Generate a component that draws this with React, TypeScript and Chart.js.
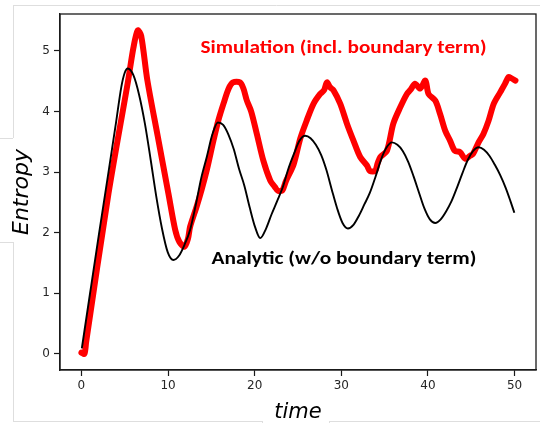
import React, { useEffect, useRef } from 'react';
import { Chart, registerables } from 'chart.js';

Chart.register(...registerables);

// ---- data ----
const analyticTime = [
  0.05, 1, 2, 3, 4, 4.6, 5.0, 5.35,
  6.0, 6.67, 7.33, 8.0, 8.64, 9.3, 9.96, 10.62,
  11.26, 11.9, 12.55, 13.19, 13.83, 14.47, 15.11, 15.75,
  16.36, 16.97, 17.58, 18.2, 18.8, 19.42, 20.03, 20.64,
  21.29, 21.94, 22.59, 23.24, 23.88, 24.53, 25.18, 25.83,
  26.45, 27.06, 27.68, 28.29, 28.9, 29.52, 30.14, 30.76,
  31.4, 32.03, 32.67, 33.3, 33.94, 34.57, 35.2, 35.84,
  36.47, 37.09, 37.72, 38.34, 38.97, 39.59, 40.22, 40.84,
  41.47, 42.09, 42.72, 43.34, 43.97, 44.59, 45.22, 45.84,
  46.47, 47.09, 47.72, 48.34, 48.97, 49.5, 49.97,
];
const analyticEntropy = [
  0.09, 1.0, 1.95, 2.88, 3.82, 4.4, 4.64, 4.71,
  4.6, 4.27, 3.8, 3.2, 2.6, 2.07, 1.68, 1.55,
  1.62, 1.8, 2.05, 2.45, 2.9, 3.25, 3.62, 3.82,
  3.78, 3.62, 3.38, 3.05, 2.78, 2.42, 2.1, 1.91,
  2.06, 2.3, 2.52, 2.75, 3.05, 3.3, 3.52, 3.6,
  3.56, 3.45, 3.28, 3.03, 2.71, 2.4, 2.16, 2.07,
  2.13, 2.28, 2.47, 2.66, 2.92, 3.2, 3.4, 3.49,
  3.45, 3.35, 3.17, 2.93, 2.66, 2.4, 2.22, 2.16,
  2.22, 2.35, 2.52, 2.74, 2.98, 3.2, 3.35, 3.41,
  3.37, 3.27, 3.12, 2.95, 2.74, 2.53, 2.33,
];

const simTime = [
  0, 0.35, 0.55, 3.12, 5.39, 6.0, 6.5, 6.9, 7.62, 8.8, 10.05, 10.82, 11.3, 11.9, 12.3, 12.55, 13.3, 13.9, 14.5,
  15.24, 15.8, 16.4, 17.0, 17.5, 18.3, 18.7, 19.1, 19.6, 20.25, 21.0, 21.8, 22.3, 22.7, 23.2, 23.6, 24.5, 25.25,
  26.0, 26.8, 27.56, 28.0, 28.34, 28.7, 29.1, 29.87, 30.65, 31.4, 32.18, 32.96, 33.3, 33.9, 34.2, 34.5, 35.26,
  36.0, 36.8, 37.57, 38.0, 38.5, 39.1, 39.7, 40.07, 40.84, 41.4, 42.0, 42.55, 43.1, 43.7, 44.3, 44.87, 45.2,
  45.84, 46.4, 47.0, 47.6, 48.35, 48.9, 49.3, 49.6, 50.1,
];
const simEntropy = [
  0.02, 0.0, 0.2, 2.64, 4.51, 5.05, 5.34, 5.25, 4.51, 3.6, 2.64, 2.05, 1.85, 1.77, 1.9, 2.1, 2.43, 2.72, 3.05,
  3.52, 3.85, 4.13, 4.38, 4.48, 4.48, 4.38, 4.18, 4.0, 3.63, 3.19, 2.86, 2.76, 2.69, 2.7, 2.85, 3.13, 3.55,
  3.85, 4.13, 4.29, 4.35, 4.48, 4.4, 4.35, 4.13, 3.8, 3.52, 3.25, 3.11, 3.02, 3.02, 3.15, 3.25, 3.35,
  3.8, 4.07, 4.29, 4.36, 4.46, 4.38, 4.51, 4.29, 4.18, 3.96, 3.68, 3.52, 3.35, 3.33, 3.22, 3.27, 3.3,
  3.49, 3.63, 3.85, 4.13, 4.32, 4.46, 4.57, 4.55, 4.51,
];

const xTickValues = [0, 10, 20, 30, 40, 50];
const yTickValues = [0, 1, 2, 3, 4, 5];
const xTitle = 'time';
const yTitle = 'Entropy';
const annotationTexts = ['Simulation (incl. boundary term)', 'Analytic (w/o boundary term)'];
const annotationX = [30.25, 30.3];
const annotationY = [4.97, 1.485];

// ---- layout / style ----
const X_MIN = -2.47;
const X_MAX = 52.47;
const Y_MIN = -0.267;
const Y_MAX = 5.61;
const annotationColors = ['#ff0000', '#000000'];
const annotationWidths = [286, 265];

const frameAndNotes = {
  id: 'frameAndNotes',
  beforeDraw(chart: any) {
    const ctx = chart.ctx;
    ctx.save();
    ctx.strokeStyle = '#dedede';
    ctx.lineWidth = 1;
    ctx.beginPath();
    ctx.moveTo(13, 5.5); ctx.lineTo(540, 5.5);
    ctx.moveTo(13.5, 5); ctx.lineTo(13.5, 138);
    ctx.moveTo(0, 138.5); ctx.lineTo(13, 138.5);
    ctx.moveTo(0, 242.5); ctx.lineTo(13, 242.5);
    ctx.moveTo(13.5, 242); ctx.lineTo(13.5, 421);
    ctx.moveTo(13, 421.5); ctx.lineTo(262, 421.5);
    ctx.moveTo(330, 421.5); ctx.lineTo(540, 421.5);
    ctx.moveTo(262.5, 421); ctx.lineTo(262.5, 423);
    ctx.moveTo(329.5, 421); ctx.lineTo(329.5, 423);
    ctx.stroke();
    ctx.restore();
  },
  afterDraw(chart: any) {
    const ctx = chart.ctx;
    const a = chart.chartArea;
    ctx.save();
    ctx.strokeStyle = '#1a1a1a';
    ctx.lineWidth = 1.3;
    ctx.strokeRect(a.left, a.top, a.right - a.left, a.bottom - a.top);
    const xs = chart.scales.x;
    const ys = chart.scales.y;
    annotationTexts.forEach((t, i) => {
      ctx.font = 'bold 18px Carlito, Lato, sans-serif';
      const w = ctx.measureText(t).width;
      const sx = annotationWidths[i] / w;
      const px = xs.getPixelForValue(annotationX[i]);
      const py = ys.getPixelForValue(annotationY[i]);
      ctx.save();
      ctx.translate(px, py);
      ctx.scale(sx, 1);
      ctx.fillStyle = annotationColors[i];
      ctx.textAlign = 'center';
      ctx.textBaseline = 'alphabetic';
      ctx.fillText(t, 0, 0);
      ctx.restore();
    });
    ctx.restore();
  },
};

export default function App() {
  const ref = useRef<HTMLCanvasElement | null>(null);
  useEffect(() => {
    if (!ref.current) return;
    const tickFont = { family: 'DejaVu Sans', size: 12 };
    const chart = new Chart(ref.current, {
      type: 'line',
      data: {
        datasets: [
          {
            label: 'Analytic',
            data: analyticTime.map((t, i) => ({ x: t, y: analyticEntropy[i] })),
            borderColor: '#000000',
            borderWidth: 1.9,
            pointRadius: 0,
            fill: false,
            cubicInterpolationMode: 'monotone',
          },
          {
            label: 'Simulation',
            data: simTime.map((t, i) => ({ x: t, y: simEntropy[i] })),
            borderColor: '#ff0000',
            borderWidth: 6,
            pointRadius: 0,
            fill: false,
            tension: 0.3,
            borderCapStyle: 'round',
            borderJoinStyle: 'round',
          },
        ],
      },
      options: {
        responsive: false,
        animation: false,
        events: [],
        layout: { padding: { left: 0, top: 14, right: 4, bottom: 0 } },
        plugins: { legend: { display: false }, tooltip: { enabled: false } },
        scales: {
          x: {
            type: 'linear',
            min: X_MIN,
            max: X_MAX,
            afterBuildTicks: (axis: any) => {
              axis.ticks = xTickValues.map((v) => ({ value: v }));
            },
            afterFit: (s: any) => {
              s.height = 53;
            },
            grid: { drawOnChartArea: false, drawTicks: true, tickLength: 6, tickColor: '#1a1a1a', tickWidth: 1.2 },
            border: { display: true, color: '#1a1a1a', width: 1.3 },
            ticks: { font: tickFont, color: '#262626', padding: 3, maxRotation: 0 },
            title: {
              display: true,
              text: xTitle,
              font: { family: 'DejaVu Sans', size: 21, style: 'italic', lineHeight: 1 },
              color: '#000000',
              padding: { top: 0, bottom: 0 },
            },
          },
          y: {
            type: 'linear',
            min: Y_MIN,
            max: Y_MAX,
            afterBuildTicks: (axis: any) => {
              axis.ticks = yTickValues.map((v) => ({ value: v }));
            },
            afterFit: (s: any) => {
              s.width = 60;
            },
            grid: { drawOnChartArea: false, drawTicks: true, tickLength: 6, tickColor: '#1a1a1a', tickWidth: 1.2 },
            border: { display: true, color: '#1a1a1a', width: 1.3 },
            ticks: { font: tickFont, color: '#262626', padding: 4 },
            title: {
              display: true,
              text: yTitle,
              font: { family: 'DejaVu Sans', size: 22, style: 'italic', lineHeight: 1 },
              color: '#000000',
              padding: { top: 11, bottom: 0 },
            },
          },
        },
      },
      plugins: [frameAndNotes],
    } as any);
    return () => chart.destroy();
  }, []);
  return (
    <div style={{ position: 'fixed', left: 0, top: 0, width: 540, height: 423, background: '#fff' }}>
      <canvas ref={ref} width={540} height={423} style={{ display: 'block', width: 540, height: 423 }} />
    </div>
  );
}
